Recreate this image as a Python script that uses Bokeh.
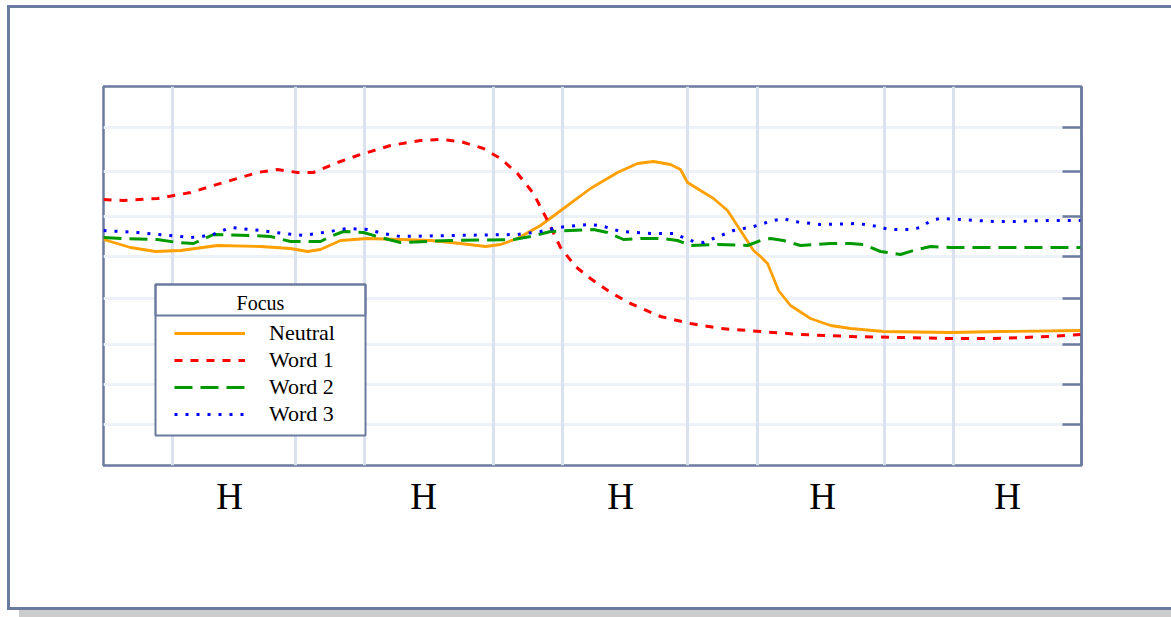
from bokeh.plotting import figure
from bokeh.models import FixedTicker, Span, BoxAnnotation, Range1d, Label
from bokeh.embed import file_html
from bokeh.resources import INLINE

# ---- data (time in ms, pitch in arbitrary units) ----
neutral_x = [0, 27, 52, 77, 114, 157, 187, 204, 217, 237, 264, 297, 327, 357, 382, 397, 414, 437, 460, 487,
             514, 534, 550, 567, 577, 584, 597, 610, 624, 637, 650, 657, 664, 669, 675, 687, 707, 727, 747,
             780, 847, 897, 978]
neutral_y = [226, 218, 214, 215, 220, 219, 217, 214, 216, 225, 227, 226, 225, 222, 219, 221, 227, 240, 257, 277,
             293, 302, 304, 301, 296, 283, 275, 267, 255, 235, 215, 209, 202, 190, 175, 160, 147, 140, 137,
             134, 133, 134, 135]

word1_x = [0, 20, 54, 87, 120, 154, 174, 194, 210, 234, 254, 287, 317, 337, 357, 380, 397, 414, 430, 444,
           457, 472, 487, 507, 527, 557, 587, 617, 657, 697, 747, 797, 847, 890, 947, 978]
word1_y = [266, 265, 267, 273, 283, 293, 296, 293, 293, 303, 310, 320, 325, 326, 324, 317, 307, 292, 272, 245,
           218, 199, 187, 173, 162, 149, 142, 137, 134, 131, 129, 128, 127, 127, 129, 131]

word2_x = [0, 20, 54, 74, 90, 110, 147, 167, 187, 217, 227, 240, 260, 277, 297, 347, 410, 427, 447, 490,
           504, 520, 537, 560, 574, 587, 614, 644, 657, 667, 680, 697, 727, 747, 760, 777, 797, 810, 827,
           847, 978]
word2_y = [228, 227, 226, 223, 222, 231, 230, 229, 224, 224, 229, 234, 233, 228, 223, 225, 226, 229, 234, 236,
           233, 226, 227, 227, 225, 220, 221, 220, 225, 227, 225, 220, 222, 222, 221, 214, 211, 215, 219,
           218, 218]

word3_x = [0, 34, 67, 87, 107, 127, 157, 180, 200, 220, 244, 264, 280, 297, 347, 414, 437, 454, 484, 497,
           507, 517, 547, 570, 580, 590, 600, 610, 630, 650, 670, 680, 690, 717, 754, 775, 785, 807, 817,
           826, 836, 857, 890, 910, 944, 978]
word3_y = [235, 233, 230, 228, 230, 238, 235, 232, 230, 233, 237, 236, 232, 229, 230, 231, 234, 238, 241, 240,
           237, 234, 232, 232, 228, 224, 223, 227, 235, 239, 245, 247, 244, 241, 242, 239, 236, 236, 238,
           244, 247, 246, 244, 244, 245, 245]

boundaries = [69, 192, 261, 390, 459, 584, 654, 781, 850]
syllable_pos = [126, 320, 517, 719, 904]
syllable_labels = ["H", "H", "H", "H", "H"]
y_ticks = [41, 81, 121, 167, 209, 249, 294, 338]

SLATE = "#6b7a9f"
SERIF = "Liberation Serif"

p = figure(frame_width=978, frame_height=379,
           x_range=Range1d(0, 978), y_range=Range1d(0, 379),
           output_backend="svg", toolbar_location=None,
           y_axis_location="right",
           min_border_left=93, min_border_right=90, min_border_top=78, min_border_bottom=142,
           background_fill_color="white", border_fill_color="white")
p.styles = {"border": "3px solid " + SLATE, "border-right": "none", "box-shadow": "12px 10px 0 #cccccc"}
p.margin = (5, 0, 0, 7)

p.outline_line_color = SLATE
p.outline_line_width = 2.5

# grids
p.xgrid.visible = False
p.ygrid.ticker = FixedTicker(ticks=y_ticks)
p.ygrid.grid_line_color = "#edf2f8"
p.ygrid.grid_line_width = 3

for b in boundaries:
    p.add_layout(Span(location=b, dimension="height", line_color="#d9e2ee", line_width=3, level="underlay"))

# x axis: syllable labels
p.xaxis.ticker = FixedTicker(ticks=syllable_pos)
p.xaxis.major_label_overrides = {t: l for t, l in zip(syllable_pos, syllable_labels)}
p.xaxis.major_tick_line_color = None
p.xaxis.minor_tick_line_color = None
p.xaxis.axis_line_color = None
p.xaxis.major_tick_out = 0
p.xaxis.major_tick_in = 0
p.xaxis.major_label_standoff = 10
p.xaxis.major_label_text_font = SERIF
p.xaxis.major_label_text_font_size = "37px"
p.xaxis.major_label_text_color = "black"

# y axis on right: inward ticks, no labels
p.yaxis.ticker = FixedTicker(ticks=y_ticks)
p.yaxis.major_label_overrides = {t: "" for t in y_ticks}
p.yaxis.axis_line_color = SLATE
p.yaxis.axis_line_width = 2.5
p.yaxis.major_tick_line_color = SLATE
p.yaxis.major_tick_line_width = 2.5
p.yaxis.major_tick_in = 19
p.yaxis.major_tick_out = 0
p.yaxis.minor_tick_line_color = None

# legend frame (white box with title compartment), drawn beneath the lines' level
p.add_layout(BoxAnnotation(left=52, right=262, top=181, bottom=30, fill_color="white", fill_alpha=1,
                           line_color=SLATE, line_width=2, line_alpha=1, level="underlay"))
p.add_layout(BoxAnnotation(left=52, right=262, top=181, bottom=150, fill_alpha=0,
                           line_color=SLATE, line_width=2, line_alpha=1, level="underlay"))
p.add_layout(Label(x=157, y=163, text="Focus", text_align="center", text_baseline="middle",
                   text_font=SERIF, text_font_size="20px", text_color="black"))

# lines
p.line(neutral_x, neutral_y, color="#ffa000", line_width=2.8, line_join="round", legend_label="Neutral")
p.line(word1_x, word1_y, color="#ff0000", line_width=3, line_dash="8 8", line_join="round", legend_label="Word 1")
p.line(word2_x, word2_y, color="#009900", line_width=3, line_dash="18 8", line_join="round", legend_label="Word 2")
p.line(word3_x, word3_y, color="#0000ff", line_width=3, line_dash="3 8", line_join="round", legend_label="Word 3")

lg = p.legend[0]
lg.location = (71, 38)
lg.label_text_font = SERIF
lg.label_text_font_size = "22px"
lg.label_text_color = "black"
lg.glyph_width = 71
lg.glyph_height = 20
lg.label_height = 20
lg.label_width = 70
lg.label_standoff = 24
lg.padding = 0
lg.spacing = 1
lg.border_line_color = None
lg.background_fill_alpha = 0
lg.margin = 0

open("out.html", "w").write(file_html(p, INLINE))
